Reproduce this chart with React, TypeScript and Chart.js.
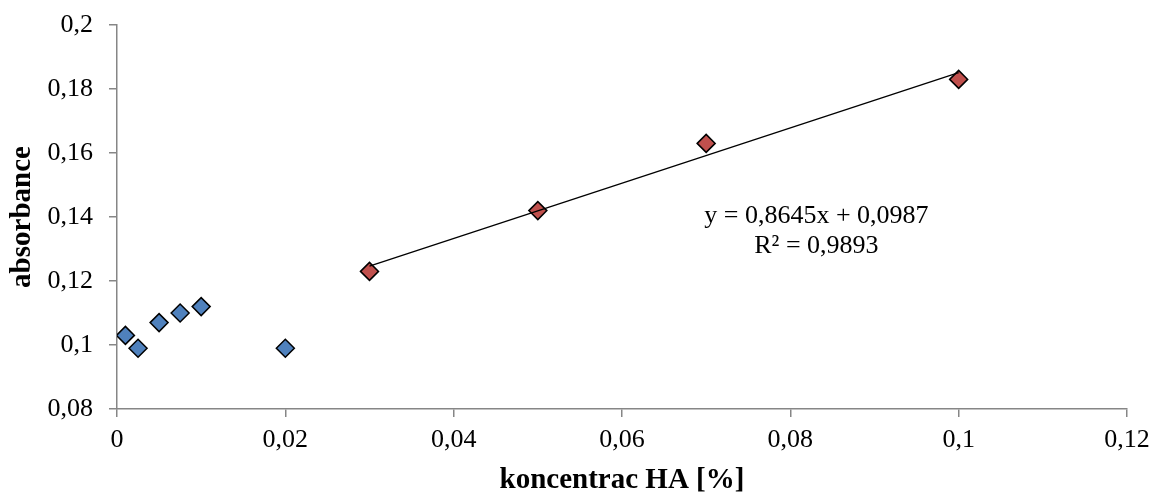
import React, { useEffect, useRef } from "react";
import { Chart, registerables } from "chart.js";
Chart.register(...registerables);

const lowX = [0.001, 0.0025, 0.005, 0.0075, 0.01, 0.02];
const lowY = [0.103, 0.099, 0.107, 0.11, 0.112, 0.099];
const highX = [0.03, 0.05, 0.07, 0.1];
const highY = [0.123, 0.142, 0.163, 0.183];
const slope = 0.8645;
const intercept = 0.0987;
const eqText = "y = 0,8645x + 0,0987";
const r2Text = "R² = 0,9893";
const xTitle = "koncentrac HA [%]";
const yTitle = "absorbance";

const fmt = (v: number) => {
  const s = parseFloat(Number(v).toFixed(4)).toString();
  return s.replace(".", ",");
};

const FONT = "'Liberation Serif', 'Times New Roman', serif";

export default function App() {
  const ref = useRef<HTMLCanvasElement>(null);
  useEffect(() => {
    document.body.style.margin = "0";
    const ctx = ref.current!;
    const trendX = [highX[0], highX[highX.length - 1]];
    const eqPlugin = {
      id: "eq",
      afterDatasetsDraw(chart: any) {
        const c = chart.ctx;
        const xs = chart.scales.x;
        const ys = chart.scales.y;
        const px = xs.getPixelForValue(0.0831);
        const py = ys.getPixelForValue(0.1406);
        c.save();
        c.fillStyle = "#000";
        c.font = `26px ${FONT}`;
        c.textAlign = "center";
        c.textBaseline = "middle";
        c.fillText(eqText, px, py + 1);
        c.fillText(r2Text, px, py + 31);
        c.restore();
      },
    };
    const chart = new Chart(ctx, {
      type: "scatter",
      data: {
        datasets: [
          {
            type: "line",
            data: trendX.map((x) => ({ x, y: slope * x + intercept })),
            borderColor: "#000",
            borderWidth: 1.3,
            pointRadius: 0,
            fill: false,
          } as any,
          {
            data: lowX.map((x, i) => ({ x, y: lowY[i] })),
            pointStyle: "rectRot",
            pointRadius: 9,
            backgroundColor: "#4F81BD",
            borderColor: "#000",
            borderWidth: 1.5,
          },
          {
            data: highX.map((x, i) => ({ x, y: highY[i] })),
            pointStyle: "rectRot",
            pointRadius: 9,
            backgroundColor: "#C0504D",
            borderColor: "#000",
            borderWidth: 1.5,
          },
        ],
      },
      options: {
        animation: false,
        responsive: false,
        maintainAspectRatio: false,
        layout: { padding: { top: 25, right: 26, left: 0, bottom: 0 } },
        plugins: { legend: { display: false }, tooltip: { enabled: false } },
        scales: {
          x: {
            type: "linear",
            min: 0,
            max: 0.12,
            ticks: {
              stepSize: 0.02,
              color: "#000",
              font: { family: FONT, size: 26 },
              padding: 8,
              maxRotation: 0,
              callback: (v: any) => fmt(v),
            },
            grid: {
              drawOnChartArea: false,
              drawTicks: true,
              tickLength: 8,
              color: "#868686",
              lineWidth: 1.5,
            },
            border: { color: "#868686", width: 1.5 },
            title: {
              display: true,
              text: xTitle,
              color: "#000",
              font: { family: FONT, size: 29, weight: "bold" },
              padding: { top: 0, bottom: -4 },
            },
            afterFit: (s: any) => {
              s.height = 494 - 409;
              s.paddingLeft = 0;
              s.paddingRight = 0;
            },
          },
          y: {
            type: "linear",
            min: 0.08,
            max: 0.2,
            ticks: {
              stepSize: 0.02,
              color: "#000",
              font: { family: FONT, size: 26 },
              padding: 16,
              callback: (v: any) => fmt(v),
            },
            grid: {
              drawOnChartArea: false,
              drawTicks: true,
              tickLength: 8,
              color: "#868686",
              lineWidth: 1.5,
            },
            border: { color: "#868686", width: 1.5 },
            title: {
              display: true,
              text: yTitle,
              color: "#000",
              font: { family: FONT, size: 29, weight: "bold" },
              padding: { top: 5, bottom: 0 },
            },
            afterFit: (s: any) => {
              s.width = 117;
              s.paddingTop = 0;
              s.paddingBottom = 0;
            },
          },
        },
      },
      plugins: [eqPlugin],
    });
    return () => chart.destroy();
  }, []);
  return (
    <div style={{ width: 1153, height: 494, background: "#fff" }}>
      <canvas ref={ref} width={1153} height={494} style={{ display: "block" }} />
    </div>
  );
}
